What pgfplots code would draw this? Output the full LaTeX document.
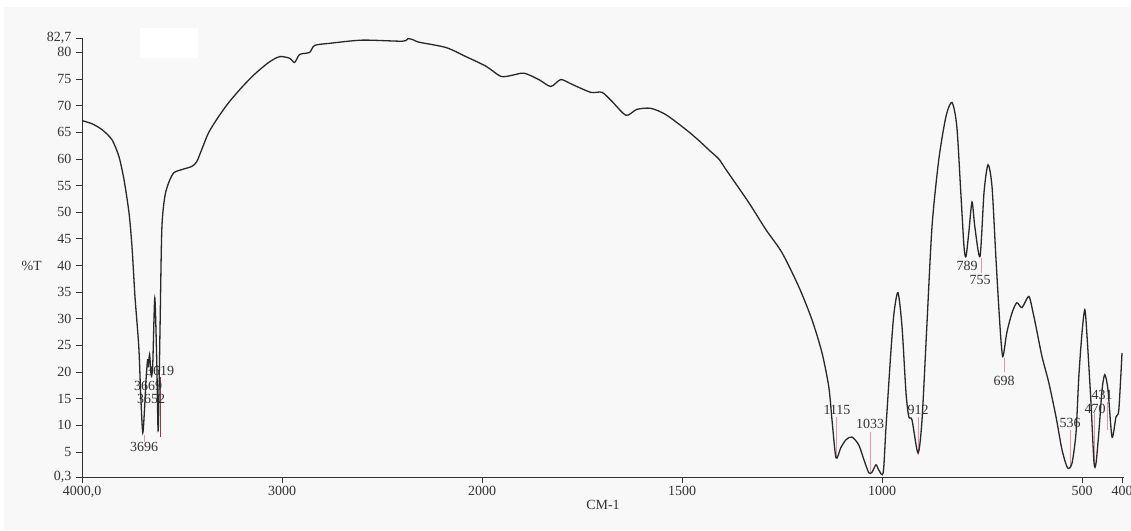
\documentclass[border=0pt]{standalone}
\usepackage{fontspec}
\setmainfont{Liberation Serif}
\usepackage{pgfplots}
\usepackage{pgfplotstable}
\pgfplotsset{compat=1.18}
\definecolor{curve}{RGB}{40,40,40}
\definecolor{peakpink}{RGB}{228,150,165}
\definecolor{peakred}{RGB}{150,55,70}
\definecolor{bg}{RGB}{248,248,248}

\pgfplotstableread{
wn T
4000 67.2
3950 66.6
3900 65.5
3850 63.6
3815 60.4
3790 56.1
3765 49.9
3750 43.5
3735 34.1
3716 24.7
3706 15.3
3696 8.6
3686 14.0
3680 18.5
3672 22.3
3668 21.4
3662 23.3
3656 20.0
3652 19.2
3646 21.7
3636 33.9
3626 21.7
3619 9.0
3610 27.9
3601 46.7
3586 52.9
3566 55.6
3541 57.4
3501 58.0
3451 58.6
3426 59.5
3401 61.8
3366 65.0
3316 68.0
3266 70.6
3202 73.4
3137 75.9
3067 78.1
3012 79.2
2962 78.9
2937 78.1
2912 79.6
2862 80.0
2837 81.3
2762 81.7
2598 82.3
2398 82.1
2370 82.6
2340 82.3
2313 81.9
2179 80.9
2080 79.2
1990 77.4
1953 75.5
1925 75.7
1895 76.1
1858 74.9
1828 73.6
1803 74.9
1775 74.0
1728 72.5
1700 72.5
1675 70.8
1640 68.2
1613 69.3
1578 69.5
1540 68.3
1490 65.5
1460 63.6
1430 61.5
1408 60.0
1390 58.0
1333 51.8
1290 46.7
1250 42.4
1208 36.0
1175 29.8
1150 23.6
1133 17.2
1125 11.0
1115 3.9
1103 5.8
1090 7.3
1075 7.8
1058 6.3
1045 3.5
1033 1.1
1025 1.2
1015 2.6
1008 1.6
997 1.1
990 9.7
978 23.6
970 31.1
960 34.9
950 28.5
940 16.1
933 11.6
925 11.0
910 4.8
900 11.0
888 28.5
875 47.3
858 59.9
840 68.0
825 70.6
813 66.1
803 53.7
795 43.5
790 41.7
783 46.2
775 51.9
768 47.3
755 41.7
745 53.7
735 58.9
725 54.8
715 41.1
705 28.5
698 22.9
688 27.4
675 31.1
663 33.0
650 32.1
633 34.2
622 31.0
615 28.5
600 22.9
583 18.0
565 11.6
550 5.4
536 2.0
525 2.9
515 8.6
508 19.1
500 27.4
493 31.7
488 27.4
478 14.8
470 3.0
465 2.9
458 8.6
450 16.6
443 19.5
435 16.6
425 7.8
415 11.6
408 12.9
400 23.6
}\spectrum

\begin{document}
\begin{tikzpicture}
\useasboundingbox (0,0) rectangle (1131pt,530pt);
\fill[bg] (4pt,0pt) rectangle (1131pt,523pt);
\fill[white] (140pt,472pt) rectangle (198pt,502pt);
\begin{axis}[
  at={(82pt,53pt)}, anchor=south west,
  scale only axis, width=1042pt, height=439pt,
  xmin=0, xmax=1042, ymin=0.3, ymax=82.7,
  axis x line*=bottom, axis y line*=left,
  axis line style={-, line width=0.9pt, color=black!80},
  xtick={0,200,400,600,800,1000,1040},
  xticklabels={{4000,0},3000,2000,1500,1000,500,400},
  ytick={0.3,5,10,15,20,25,30,35,40,45,50,55,60,65,70,75,80,82.7},
  yticklabels={{0,3},5,10,15,20,25,30,35,40,45,50,55,60,65,70,75,80,{82,7}},
  tick align=outside, major tick length=6pt,
  tick style={black!80, line width=0.8pt},
  ticklabel style={font=\fontsize{14}{16}\selectfont, text=black!80},
  yticklabel style={xshift=-1pt},
  clip=false,
]
% peak marker lines
\addplot[peakpink, line width=1pt] coordinates {(62,8.2) (62,6.9)};
\addplot[peakred, line width=1pt] coordinates {(78,19.1) (78,7.8)};
\addplot[peakpink, line width=1pt] coordinates {(754,11.6) (754,3.9)};
\addplot[peakpink, line width=1pt] coordinates {(788,8.8) (788,1.2)};
\addplot[peakpink, line width=1pt] coordinates {(836,11.6) (836,4.4)};
\addplot[peakpink, line width=1pt] coordinates {(899,41.5) (899,38.6)};
\addplot[peakpink, line width=1pt] coordinates {(922,22.7) (922,20.0)};
\addplot[peakpink, line width=1pt] coordinates {(988,9.1) (988,2.0)};
\addplot[peakpink, line width=1pt] coordinates {(1012,12.3) (1012,2.9)};
\addplot[peakpink, line width=1pt] coordinates {(1025,14.4) (1025,9.1)};
% peak labels
\begin{scope}[every node/.style={font=\fontsize{14}{16}\selectfont, text=black!80, inner sep=0pt}]
\node at (axis cs:62,5.9) {3696};
\node at (axis cs:69,15.0) {3652};
\node at (axis cs:66,17.4) {3669};
\node at (axis cs:78,20.2) {3619};
\node at (axis cs:755,12.9) {1115};
\node at (axis cs:788,10.3) {1033};
\node at (axis cs:836,12.9) {912};
\node at (axis cs:885,40.0) {789};
\node at (axis cs:898,37.3) {755};
\node at (axis cs:922,18.3) {698};
\node at (axis cs:988,10.45) {536};
\node at (axis cs:1013,13.1) {470};
\node at (axis cs:1020,15.7) {431};
\node[anchor=east] at (axis cs:0,40) [xshift=-40pt] {\%T};
\node at (rel axis cs:0.5,0) [yshift=-28pt] {CM-1};
\end{scope}
% spectrum
\addplot[curve, line width=1.3pt, smooth, tension=0.45]
  table[x expr={(4000-\thisrowno{0})*0.2 + (\thisrowno{0}<2000)*(2000-\thisrowno{0})*0.2}, y=T] {\spectrum};
\end{axis}
\end{tikzpicture}
\end{document}
